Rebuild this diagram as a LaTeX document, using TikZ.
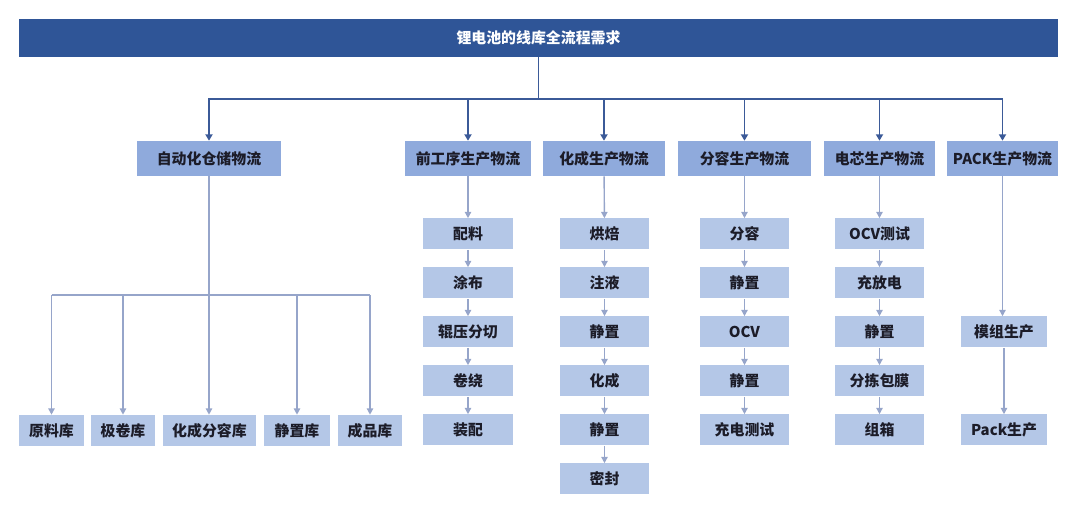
\documentclass[tikz,border=0pt]{standalone}
\usepackage{fontspec}
\setmainfont{Noto Sans CJK SC}
\usetikzlibrary{arrows.meta}

\definecolor{titleblue}{HTML}{2F5597}
\definecolor{headblue}{HTML}{8FAADC}
\definecolor{stepblue}{HTML}{B4C7E7}
\definecolor{mainline}{HTML}{3B5A98}
\definecolor{subline}{HTML}{96A5CA}
\definecolor{textdark}{HTML}{1C1C28}

\tikzset{
	every node/.style = {inner sep=0pt, text=textdark,
		font=\bfseries\fontsize{10.6pt}{12pt}\selectfont},
	titlebox/.style = {fill=titleblue, text=white, minimum height=38*0.025cm, minimum width=1039*0.025cm},
	headbox/.style = {fill=headblue, minimum height=35*0.025cm, minimum width=#1*0.025cm},
	stepbox/.style = {fill=stepblue, minimum height=31*0.025cm, minimum width=#1*0.025cm},
	mainarrow/.style = {draw=mainline, line width=1.3pt, -{Triangle[width=5pt,length=4.5pt]}},
	subarrow/.style = {draw=subline, line width=1pt, -{Triangle[width=4.5pt,length=4.5pt]}},
	subline/.style = {draw=subline, line width=1pt}
}

\begin{document}
\begin{tikzpicture}[x=0.025cm,y=-0.025cm]
	\useasboundingbox (0,0) rectangle (1080,523);

	\node[titlebox] (title) at (538.5,38) {锂电池的线库全流程需求};

	\node[headbox=144] (A) at (209,158.5) {自动化仓储物流};
	\node[headbox=126] (B) at (468,158.5) {前工序生产物流};
	\node[headbox=122] (C) at (604,158.5) {化成生产物流};
	\node[headbox=133] (D) at (744.5,158.5) {分容生产物流};
	\node[headbox=111] (E) at (879.5,158.5) {电芯生产物流};
	\node[headbox=111] (F) at (1002.5,158.5) {PACK生产物流};

	\foreach \n in {A,B,C,D,E,F}
		\draw[mainarrow] (title.south) -- ++(0,42) -| (\n.north);

	% warehouses
	\node[stepbox=65] (w1) at (51.5,430.5) {原料库};
	\node[stepbox=64] (w2) at (123,430.5) {极卷库};
	\node[stepbox=93] (w3) at (209.5,430.5) {化成分容库};
	\node[stepbox=66] (w4) at (297,430.5) {静置库};
	\node[stepbox=64] (w5) at (370,430.5) {成品库};
	\coordinate (wbus) at (209,295);
	\draw[subarrow] (A.south) -- (A.south |- w3.north);
	\draw[subline] (w1 |- wbus) -- (w5 |- wbus);
	\foreach \i in {1,2,4,5}
		\draw[subarrow] (w\i |- wbus) -- (w\i.north);

	% process columns
	\foreach \t [count=\i] in {配料,涂布,辊压分切,卷绕,装配}
		\node[stepbox=90] (b\i) at (468,185+49*\i) {\t};
	\foreach \t [count=\i] in {烘焙,注液,静置,化成,静置,密封}
		\node[stepbox=89] (c\i) at (604.5,185+49*\i) {\t};
	\foreach \t [count=\i] in {分容,静置,OCV,静置,充电测试}
		\node[stepbox=89] (d\i) at (744.5,185+49*\i) {\t};
	\foreach \t [count=\i] in {OCV测试,充放电,静置,分拣包膜,组箱}
		\node[stepbox=89] (e\i) at (879.5,185+49*\i) {\t};
	\node[stepbox=86] (f1) at (1004,332) {模组生产};
	\node[stepbox=86] (f2) at (1004,430) {Pack生产};

	\draw[subarrow] (B) -- (b1);
	\draw[subarrow] (C) -- (c1);
	\draw[subarrow] (D) -- (d1);
	\draw[subarrow] (E) -- (e1);
	\draw[subarrow] (F.south) -- (F.south |- f1.north);
	\draw[subarrow] (f1) -- (f2);
	\foreach \i [remember=\i as \j (initially 1)] in {2,...,5} {
		\draw[subarrow] (b\j) -- (b\i);
		\draw[subarrow] (d\j) -- (d\i);
		\draw[subarrow] (e\j) -- (e\i);
	}
	\foreach \i [remember=\i as \j (initially 1)] in {2,...,6}
		\draw[subarrow] (c\j) -- (c\i);
\end{tikzpicture}
\end{document}
